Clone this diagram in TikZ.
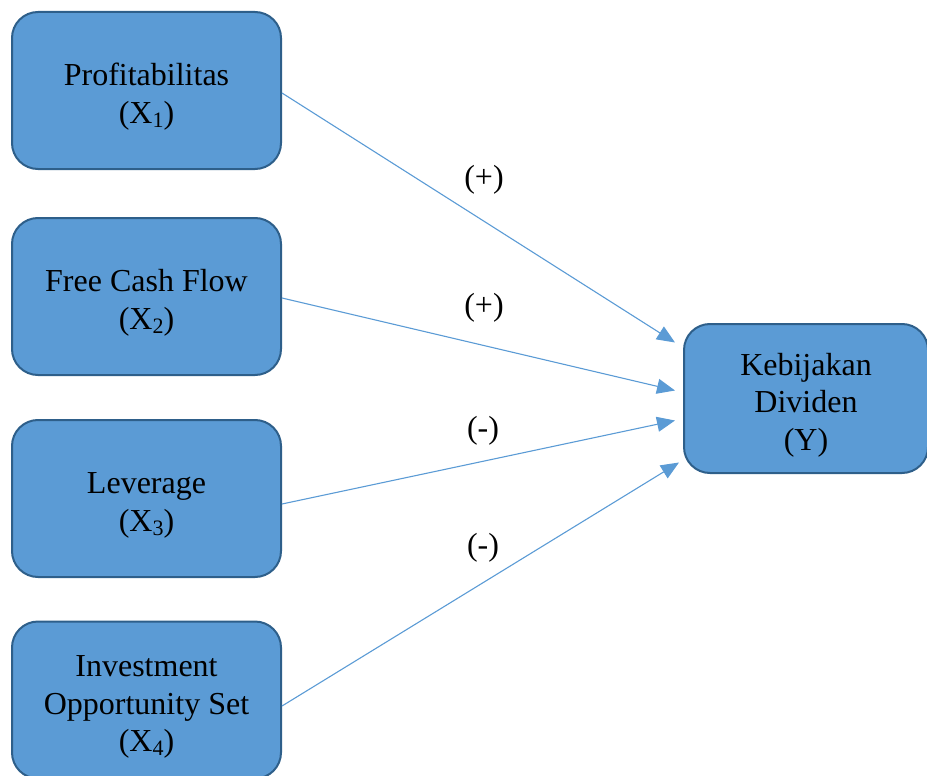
\documentclass[tikz,border=0pt]{standalone}
\usepackage{fontspec}
\setmainfont{Liberation Serif}
\usetikzlibrary{arrows.meta}
\definecolor{boxfill}{HTML}{5B9BD5}
\definecolor{boxline}{HTML}{2E5F8A}
\definecolor{arrowcol}{HTML}{5B9BD5}
\newcommand{\sub}[1]{\raisebox{-0.12em}{\fontsize{22}{22}\selectfont #1}}
\newcommand{\topstrut}{\rule{0pt}{1.1em}}
\begin{document}
\begin{tikzpicture}[x=1pt,y=-1pt,
  varbox/.style={draw=boxline, line width=2pt, fill=boxfill, rounded corners=26pt,
    minimum width=269pt, minimum height=157pt, align=center, inner sep=0pt,
    font=\fontsize{32}{37.5}\selectfont},
  ybox/.style={varbox, minimum width=244pt, minimum height=149pt},
  conn/.style={draw=arrowcol, line width=1.1pt, -{Triangle[length=18pt,width=15pt]}},
  sign/.style={font=\fontsize{32}{37.5}\selectfont, inner sep=0pt}]
\useasboundingbox (0,0) rectangle (927,776);
\node[varbox] (x1) at (146.5,90.5) {\topstrut Profitabilitas\\(X\sub{1})};
\node[varbox] (x2) at (146.5,296.5) {\topstrut Free Cash Flow\\(X\sub{2})};
\node[varbox] (x3) at (146.5,498.5) {\topstrut Leverage\\(X\sub{3})};
\node[varbox] (x4) at (146.5,700) {\topstrut Investment\\Opportunity Set\\(X\sub{4})};
\node[ybox] (y) at (806,398.5) {\topstrut Kebijakan\\Dividen\\(Y)};
\coordinate (e1) at ([xshift=-8pt,yshift=56pt]y.west);
\coordinate (e2) at ([xshift=-8pt,yshift=8pt]y.west);
\coordinate (e3) at ([xshift=-8pt,yshift=-22pt]y.west);
\coordinate (e4) at ([xshift=-4pt,yshift=-64pt]y.west);
\draw[conn] ([yshift=-2.5pt]x1.east) -- (e1);
\draw[conn] ([yshift=-1.5pt]x2.east) -- (e2);
\draw[conn] ([yshift=-5.5pt]x3.east) -- (e3);
\draw[conn] ([yshift=-6pt]x4.east) -- (e4);
\node[sign] (s1) at (484,180) {(+)};
\node[sign] (s2) at (484,308) {(+)};
\node[sign] (s3) at (483,431) {(-)};
\node[sign] (s4) at (483,548) {(-)};
\end{tikzpicture}
\end{document}
